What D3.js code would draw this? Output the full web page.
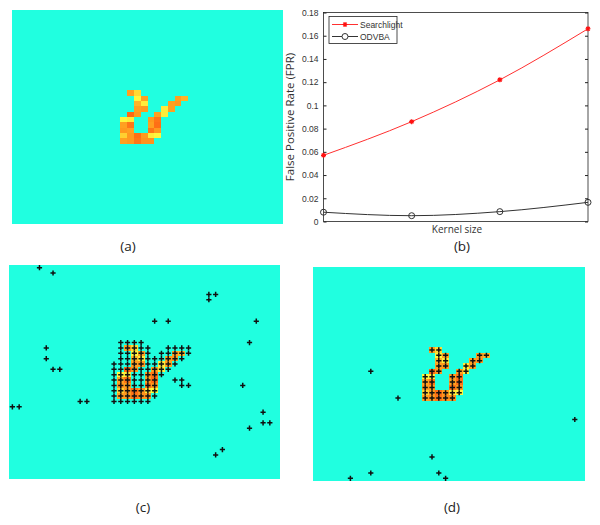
<!DOCTYPE html>
<html>
<head>
<meta charset="utf-8">
<script src="https://cdn.jsdelivr.net/npm/d3@7"></script>
<style>
  body { margin: 0; background: #fff; }
  svg { display: block; }
</style>
</head>
<body>
<svg id="fig" width="600" height="525"></svg>
<script>
const svg = d3.select("#fig");

// 40x40 activation map, only non-background cells listed: [row, col, intensity]
const gridN = 40;
const shapeCells = [
  [15,17,0.5],[15,18,0.8],
  [16,18,0.95],[16,19,0.5],[16,24,0.5],[16,25,0.6],
  [17,18,0.6],[17,19,0.9],[17,23,0.5],[17,24,0.45],
  [18,18,0.5],[18,19,0.45],[18,22,0.9],[18,23,0.5],
  [19,17,0.1],[19,18,0.45],[19,21,0.5],[19,22,0.9],
  [20,16,0.95],[20,17,0.9],[20,20,0.45],[20,21,0.2],
  [21,16,0.5],[21,17,0.2],[21,20,0.5],[21,21,0.15],
  [22,16,0.45],[22,17,0.5],[22,20,0.2],[22,21,0.45],
  [23,16,0.75],[23,17,0.45],[23,18,0.15],[23,19,0.45],[23,20,0.9],[23,21,0.95],
  [24,16,0.5],[24,17,0.45],[24,18,0.2],[24,19,0.4],[24,20,0.4]
];

// detected voxels, searchlight (c): [row, col]
const crossesC = [
  [0,4],[1,6],[5,29],[5,30],[6,29],[10,21],[10,23],[10,36],[14,35],
  [15,5],[17,5],[19,6],[19,7],[22,34],[25,10],[25,11],[26,0],[26,1],
  [27,37],[29,37],[29,38],[30,35],[34,31],[35,30],
  [21,24],[21,25],[22,25],[22,26]
];
// dense block rows for (c): [row, firstCol, lastCol]
const blockC = [
  [14,16,19],[15,16,20],[15,23,26],[16,16,20],[16,22,26],[17,16,25],
  [18,15,24],[19,15,23],[20,15,22],[21,15,21],[22,15,21],[23,15,21],
  [24,15,21],[25,15,20]
];
// detected voxels, ODVBA (d): scattered ones, shape voxels are added too
const crossesD = [[19,8],[24,12],[28,38],[35,17],[38,8],[38,18],[39,5],[39,19]];

// FPR chart
const kernelIdx = [1, 2, 3, 4];
const fprSearchlight = [0.057, 0.086, 0.122, 0.166];
const fprODVBA = [0.008, 0.005, 0.0085, 0.0165];
const yTicks = [0, 0.02, 0.04, 0.06, 0.08, 0.1, 0.12, 0.14, 0.16, 0.18];

const color = d3.scaleLinear()
  .domain([0, 0.5, 1])
  .range(["#ff5a10", "#ffa020", "#ffff40"]);
const bgColor = "#20ffe0";

function drawMap(x0, y0, w, h, crosses) {
  const g = svg.append("g");
  const x = d3.scaleBand().domain(d3.range(gridN)).range([x0, x0 + w]);
  const y = d3.scaleBand().domain(d3.range(gridN)).range([y0, y0 + h]);
  const lookup = new Map(shapeCells.map(d => [d[0] * gridN + d[1], d[2]]));
  const cells = d3.range(gridN * gridN).map(i => ({
    r: Math.floor(i / gridN), c: i % gridN, v: lookup.get(i)
  }));
  g.selectAll("rect")
    .data(cells)
    .enter()
    .append("rect")
    .attr("x", d => x(d.c))
    .attr("y", d => y(d.r))
    .attr("width", x.bandwidth() + 0.3)
    .attr("height", y.bandwidth() + 0.3)
    .attr("fill", d => d.v === undefined ? bgColor : color(d.v))
    .attr("shape-rendering", "crispEdges");
  if (!crosses) return;
  g.selectAll("path")
    .data(crosses)
    .enter()
    .append("path")
    .attr("transform", d => `translate(${x(d[1]) + x.bandwidth() / 2},${y(d[0]) + y.bandwidth() / 2})`)
    .attr("d", "M-2.6,0H2.6M0,-2.6V2.6")
    .attr("stroke", "#111")
    .attr("stroke-width", 1.5);
}

// (a)
drawMap(12, 10, 271, 214, null);

// (c)
const blockCells = [];
blockC.forEach(([r, a, b]) => d3.range(a, b + 1).forEach(c => blockCells.push([r, c])));
drawMap(9, 265, 271, 214, crossesC.concat(blockCells));

// (d)
drawMap(313, 267, 272, 214, crossesD.concat(shapeCells.map(d => [d[0], d[1]])));

// (b) chart
const x = d3.scaleLinear().domain([1, 4]).range([323.5, 588]);
const y = d3.scaleLinear().domain([0, 0.18]).range([221.5, 12.5]);

const chart = svg.append("g").attr("font-family", "Liberation Sans, Arial, sans-serif");

chart.append("rect")
  .attr("x", x(1)).attr("y", y(0.18))
  .attr("width", x(4) - x(1)).attr("height", y(0) - y(0.18))
  .attr("fill", "#fff").attr("stroke", "#222").attr("stroke-width", 0.8);

const yAxis = chart.append("g")
  .attr("transform", `translate(${x(1)},0)`)
  .call(d3.axisLeft(y).tickValues(yTicks).tickSize(-3).tickPadding(5)
    .tickFormat(d => d === 0 ? "0" : String(+d.toFixed(2))));
yAxis.select(".domain").remove();
yAxis.selectAll("line").attr("stroke", "#222");
yAxis.selectAll("text").attr("font-size", 8.5).attr("fill", "#333")
  .attr("font-family", "Liberation Sans, Arial, sans-serif");

const yAxisR = chart.append("g")
  .attr("transform", `translate(${x(4)},0)`)
  .call(d3.axisRight(y).tickValues(yTicks).tickSize(-3).tickFormat(""));
yAxisR.select(".domain").remove();
yAxisR.selectAll("line").attr("stroke", "#222");

const line = d3.line().x((d, i) => x(kernelIdx[i])).y(d => y(d)).curve(d3.curveMonotoneX);

chart.append("path").datum(fprSearchlight)
  .attr("d", line).attr("fill", "none").attr("stroke", "#ff3030").attr("stroke-width", 1);
chart.append("path").datum(fprODVBA)
  .attr("d", line).attr("fill", "none").attr("stroke", "#333").attr("stroke-width", 1);

const starPath = "M-2.5,0H2.5M0,-2.5V2.5M-1.8,-1.8L1.8,1.8M-1.8,1.8L1.8,-1.8";
chart.selectAll(".star").data(fprSearchlight).enter().append("path")
  .attr("class", "star")
  .attr("transform", (d, i) => `translate(${x(kernelIdx[i])},${y(d)})`)
  .attr("d", starPath).attr("stroke", "#ff1010").attr("stroke-width", 1.2);
chart.selectAll(".circ").data(fprODVBA).enter().append("circle")
  .attr("class", "circ")
  .attr("cx", (d, i) => x(kernelIdx[i])).attr("cy", d => y(d)).attr("r", 3)
  .attr("fill", "none").attr("stroke", "#333").attr("stroke-width", 1);

// legend
const lg = chart.append("g");
lg.append("rect").attr("x", 329).attr("y", 16.5).attr("width", 68).attr("height", 27)
  .attr("fill", "#fff").attr("stroke", "#222").attr("stroke-width", 0.8);
lg.append("line").attr("x1", 332).attr("x2", 358).attr("y1", 24.5).attr("y2", 24.5)
  .attr("stroke", "#ff3030");
lg.append("path").attr("transform", "translate(345,24.5)").attr("d", starPath)
  .attr("stroke", "#ff1010").attr("stroke-width", 1.2);
lg.append("line").attr("x1", 332).attr("x2", 358).attr("y1", 36.5).attr("y2", 36.5)
  .attr("stroke", "#333");
lg.append("circle").attr("cx", 345).attr("cy", 36.5).attr("r", 3)
  .attr("fill", "#fff").attr("stroke", "#333");
lg.append("text").attr("x", 360).attr("y", 27.5).attr("font-size", 8.5).attr("fill", "#333")
  .text("Searchlight");
lg.append("text").attr("x", 360).attr("y", 39.5).attr("font-size", 8.5).attr("fill", "#333")
  .text("ODVBA");

// axis titles
svg.append("text")
  .attr("transform", "translate(294,117) rotate(-90)")
  .attr("text-anchor", "middle")
  .attr("font-family", "Open Sans, sans-serif").attr("font-size", 11.5).attr("fill", "#333")
  .text("False Positive Rate (FPR)");
svg.append("text")
  .attr("x", 457).attr("y", 233)
  .attr("text-anchor", "middle")
  .attr("font-family", "Open Sans, sans-serif").attr("font-size", 10).attr("fill", "#333")
  .text("Kernel size");

// panel labels
const panelLabels = [["(a)", 128, 251], ["(b)", 462, 251], ["(c)", 143, 512], ["(d)", 452, 512]];
svg.selectAll(".plabel").data(panelLabels).enter().append("text")
  .attr("class", "plabel")
  .attr("x", d => d[1]).attr("y", d => d[2])
  .attr("text-anchor", "middle")
  .attr("font-family", "Open Sans, sans-serif").attr("font-size", 13.5).attr("fill", "#222")
  .text(d => d[0]);
</script>
</body>
</html>
